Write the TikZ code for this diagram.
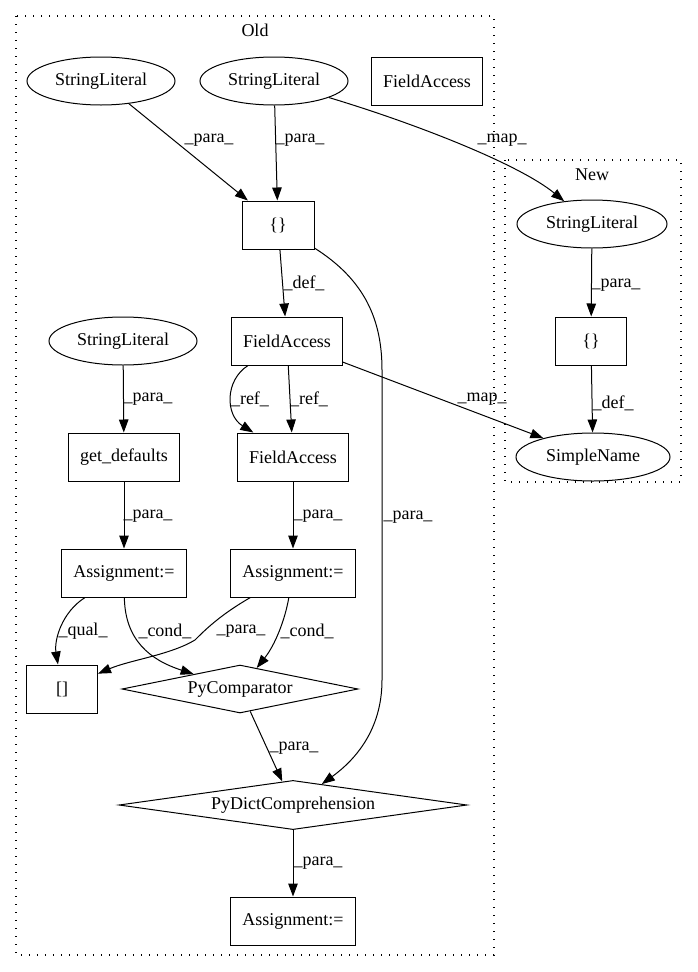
\documentclass[tikz,border=0pt]{standalone}
\usepackage{fontspec}
\setmainfont{Liberation Serif}
\usetikzlibrary{shapes.geometric,arrows.meta,positioning}

\tikzset{
  lit/.style={draw,ellipse,minimum width=148pt,minimum height=48pt,inner sep=0pt,line width=1pt},
  box/.style={draw,rectangle,minimum height=48pt,inner sep=0pt,line width=1pt},
  cmp/.style={draw,diamond,aspect=5,minimum height=48pt,inner sep=0pt,line width=1pt},
  edge/.style={-{Triangle[length=13pt,width=9.5pt]},line width=1pt},
  lbl/.style={inner sep=0pt},
  cluster/.style={line width=1.2pt,dash pattern=on 1.3pt off 6.7pt},
}

\begin{document}
\begin{tikzpicture}[x=1pt,y=-1pt,font=\fontsize{18pt}{21pt}\selectfont]
  \useasboundingbox (0,0) rectangle (697,972);

  % clusters
  \draw[cluster] (16,16) rectangle (494,955);
  \node (old) at (255,30) {Old};
  \draw[cluster] (505,160) rectangle (681,482);
  \node (new) at (592,175) {New};

  % old
  \node[lit] (sl1) at (101,81) {StringLiteral};
  \node[lit] (sl2) at (274,81) {StringLiteral};
  \node[box,minimum width=111pt] (fa1) at (427,81) {FieldAccess};
  \node[box,minimum width=72pt] (br1) at (278,225) {\{\}};
  \node[box,minimum width=111pt] (fa2) at (287,341) {FieldAccess};
  \node[lit] (sl3) at (123,341) {StringLiteral};
  \node[box,minimum width=111pt] (gd) at (124,457) {get\_defaults};
  \node[box,minimum width=111pt] (fa3) at (293,457) {FieldAccess};
  \node[box,minimum width=125pt] (as1) at (124,573) {Assignment:=};
  \node[box,minimum width=125pt] (as2) at (293,573) {Assignment:=};
  \node[box,minimum width=71pt] (idx) at (62,689) {[]};
  \node[cmp,minimum width=236pt] (pc) at (240,689) {PyComparator};
  \node[cmp,minimum width=348pt] (pd) at (293,805) {PyDictComprehension};
  \node[box,minimum width=125pt] (as3) at (293,921) {Assignment:=};

  % new
  \node[lit,minimum width=150pt] (nsl) at (592,224) {StringLiteral};
  \node[box,minimum width=71pt] (nbr) at (591,341) {\{\}};
  \node[lit,minimum width=154pt] (sn) at (593,457) {SimpleName};

  % edges
  \draw[edge] (sl1) -- (br1) node[lbl] at (209,140) {\_para\_};
  \draw[edge] (sl2) -- (br1) node[lbl] at (300,140) {\_para\_};
  \draw[edge] (sl2) .. controls (420,125) and (520,165) .. (nsl) node[lbl] at (502,140) {\_map\_};
  \draw[edge] (br1) -- (fa2) node[lbl] at (304,283) {\_def\_};
  \draw[edge] (br1) .. controls (365,280) and (382,320) .. (382,370) -- (382,680)
    .. controls (382,730) and (355,760) .. (pd) node[lbl] at (408,517) {\_para\_};
  \draw[edge] (fa2) .. controls (225,380) and (225,415) .. (fa3) node[lbl] at (250,399) {\_ref\_};
  \draw[edge] (fa2) -- (fa3) node[lbl] at (309,399) {\_ref\_};
  \draw[edge] (fa2) -- (sn) node[lbl] at (482,399) {\_map\_};
  \draw[edge] (sl3) -- (gd) node[lbl] at (148,399) {\_para\_};
  \draw[edge] (gd) -- (as1) node[lbl] at (148,516) {\_para\_};
  \draw[edge] (fa3) -- (as2) node[lbl] at (318,516) {\_para\_};
  \draw[edge] (as1) .. controls (62,612) and (54,640) .. (idx) node[lbl] at (83,631) {\_qual\_};
  \draw[edge] (as1) .. controls (125,640) and (150,660) .. (pc) node[lbl] at (165,631) {\_cond\_};
  \draw[edge] (as2) .. controls (220,615) and (205,630) .. (195,640)
    .. controls (170,655) and (130,660) .. (idx) node[lbl] at (241,631) {\_para\_};
  \draw[edge] (as2) .. controls (285,620) and (275,645) .. (pc) node[lbl] at (307,631) {\_cond\_};
  \draw[edge] (pc) -- (pd) node[lbl] at (294,748) {\_para\_};
  \draw[edge] (pd) -- (as3) node[lbl] at (318,863) {\_para\_};
  \draw[edge] (nsl) -- (nbr) node[lbl] at (616,285) {\_para\_};
  \draw[edge] (nbr) -- (sn) node[lbl] at (613,403) {\_def\_};
\end{tikzpicture}
\end{document}
